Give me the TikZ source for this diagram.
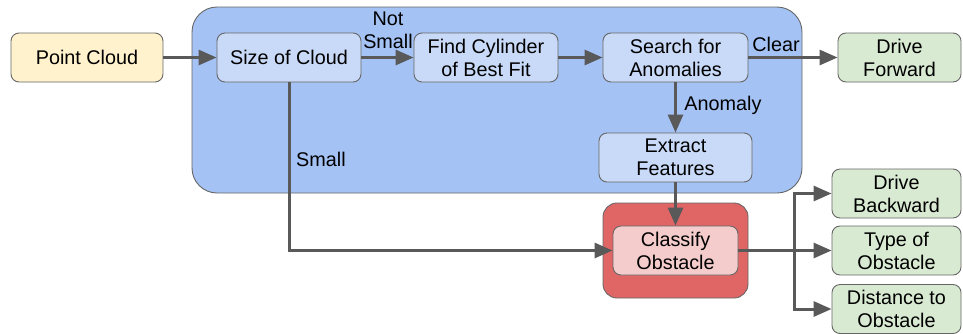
\documentclass[tikz,border=0pt]{standalone}
\usepackage{fontspec}
\setmainfont{Liberation Sans}
\usetikzlibrary{arrows.meta}
\definecolor{cYellow}{HTML}{FFF2CC}
\definecolor{cBlue}{HTML}{A4C2F4}
\definecolor{cLightBlue}{HTML}{C9DAF8}
\definecolor{cGreen}{HTML}{D9EAD3}
\definecolor{cRed}{HTML}{E06666}
\definecolor{cPink}{HTML}{F4CCCC}
\definecolor{cBorder}{HTML}{666666}
\definecolor{cArrow}{HTML}{595959}
\begin{document}
\begin{tikzpicture}[x=1pt,y=-1pt,
  every node/.style={font=\fontsize{19.8}{23}\selectfont, text=black},
  box/.style={draw=cBorder, line width=0.9pt, rounded corners=8pt, align=center, inner sep=0pt},
  group/.style={draw=cBorder, line width=0.9pt},
  arr/.style={draw=cArrow, line width=3pt, -{Triangle[length=18pt,width=15pt]}},
  lin/.style={draw=cArrow, line width=3pt},
  lbl/.style={align=center, inner sep=0pt}
]
\useasboundingbox (0,0) rectangle (963,333);
% group backgrounds
\path[group, fill=cBlue, rounded corners=25pt] (192,7) rectangle (802,193);
\path[group, fill=cRed, rounded corners=14pt] (603,203) rectangle (748,298);
% nodes
\node[box, fill=cYellow, minimum width=152pt, minimum height=49pt] (pc) at (87,57.5) {Point Cloud};
\node[box, fill=cLightBlue, minimum width=144pt, minimum height=49pt] (size) at (289,57.5) {Size of Cloud};
\node[box, fill=cLightBlue, minimum width=144pt, minimum height=49pt] (fit) at (486,57.5) {Find Cylinder\\of Best Fit};
\node[box, fill=cLightBlue, minimum width=145pt, minimum height=49pt] (search) at (675.5,57.5) {Search for\\Anomalies};
\node[box, fill=cGreen, minimum width=123pt, minimum height=49pt] (fwd) at (899.5,57.5) {Drive\\Forward};
\node[box, fill=cLightBlue, minimum width=153pt, minimum height=49pt] (extract) at (675.5,157.5) {Extract\\Features};
\node[box, fill=cPink, minimum width=125pt, minimum height=49pt] (classify) at (675.5,250.5) {Classify\\Obstacle};
\node[box, fill=cGreen, minimum width=129pt, minimum height=49pt] (back) at (896.5,193.5) {Drive\\Backward};
\node[box, fill=cGreen, minimum width=129pt, minimum height=49pt] (type) at (896.5,250.5) {Type of\\Obstacle};
\node[box, fill=cGreen, minimum width=129pt, minimum height=49pt] (dist) at (896.5,309) {Distance to\\Obstacle};
\coordinate (br) at (794,250.5);
% connectors
\draw[arr] (pc.east) -- (size.west);
\draw[arr] (size.east) -- (fit.west);
\draw[arr] (fit.east) -- (search.west);
\draw[arr] (search.east) -- (fwd.west);
\draw[arr] (search.south) -- (extract.north);
\draw[arr] (extract.south) -- (classify.north);
\draw[arr] (size.south) |- (classify.west);
\draw[lin] (classify.east) -- (br);
\draw[arr] (br) -- (type.west);
\draw[arr] (br) |- (back.west);
\draw[arr] (br) |- (dist.west);
% labels
\node[lbl] (lnotsmall) at (388,30) {Not\\Small};
\node[lbl] (lclear) at (776,44) {Clear};
\node[lbl] (lanomaly) at (723,105) {Anomaly};
\node[lbl] (lsmall) at (321,159) {Small};
\end{tikzpicture}
\end{document}
